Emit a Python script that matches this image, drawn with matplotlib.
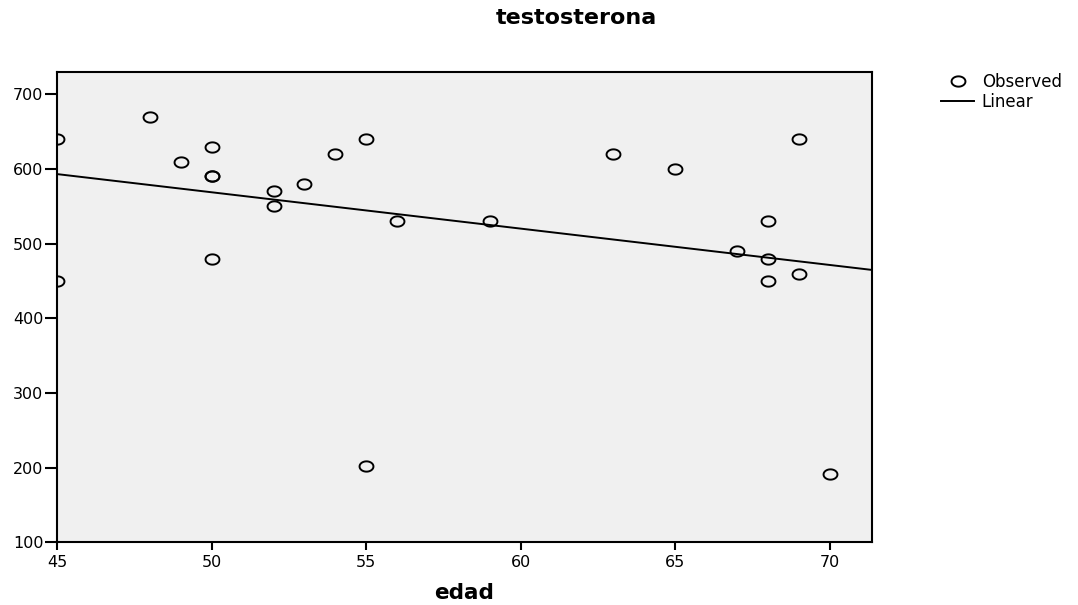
import numpy as np
import matplotlib
matplotlib.use("Agg")
import matplotlib.pyplot as plt
from matplotlib.path import Path

# Data
edad = [45, 45, 48, 49, 50, 50, 50, 50, 52, 52, 53, 54, 55, 55, 56, 59,
        63, 65, 67, 68, 68, 68, 69, 69, 70]
testosterona = [640, 450, 670, 610, 630, 590, 590, 480, 570, 550, 580, 620,
                640, 202, 530, 530, 620, 600, 490, 530, 480, 450, 640, 460, 192]
x_ticks = [45, 50, 55, 60, 65, 70]
y_ticks = [100, 200, 300, 400, 500, 600, 700]
title = "testosterona"
xlabel = "edad"

plt.rcParams['font.family'] = ['DejaVu Sans']

fig = plt.figure(figsize=(10.78, 6.05), dpi=100)
ax = fig.add_axes([0.0532, 0.1036, 0.8086 - 0.0532, 0.8805 - 0.1036])
ax.set_facecolor('#F0F0F0')

# slightly wide ellipse marker
t = np.linspace(0, 2 * np.pi, 60)
ell = Path(np.column_stack([1.35 * np.cos(t), np.sin(t)]), closed=True)

ax.plot(edad, testosterona, linestyle='none', marker=ell, markersize=10,
        markerfacecolor='none', markeredgecolor='black', markeredgewidth=1.4,
        label='Observed', zorder=3)

xs = np.array(edad, dtype=float)
ys = np.array(testosterona, dtype=float)
slope, intercept = np.polyfit(xs, ys, 1)
xl = np.array([45, 71.36])
ax.plot(xl, slope * xl + intercept, color='black', linewidth=1.4,
        label='Linear', zorder=2)

ax.set_xlim(45, 71.36)
ax.set_ylim(100, 729.5)
ax.set_xticks(x_ticks)
ax.set_yticks(y_ticks)
ax.tick_params(axis='y', length=9, width=1.5, pad=1, labelsize=11.5)
ax.tick_params(axis='x', length=6, width=1.5, pad=3, labelsize=11.5)
for s in ax.spines.values():
    s.set_linewidth(1.5)

fig.text(576 / 1078, 1 - 18 / 605, title, ha='center', va='center',
         fontsize=16, fontweight='bold')
fig.text(464 / 1078, 1 - 593 / 605, xlabel, ha='center', va='center',
         fontsize=15.5, fontweight='bold')

leg = fig.legend(loc='upper left', bbox_to_anchor=(941 / 1078, 1 - 73 / 605),
                 frameon=False, fontsize=12, handlelength=2.0,
                 handletextpad=0.45, labelspacing=0.1, borderaxespad=0,
                 borderpad=0)

fig.savefig('out.png', dpi=100)
